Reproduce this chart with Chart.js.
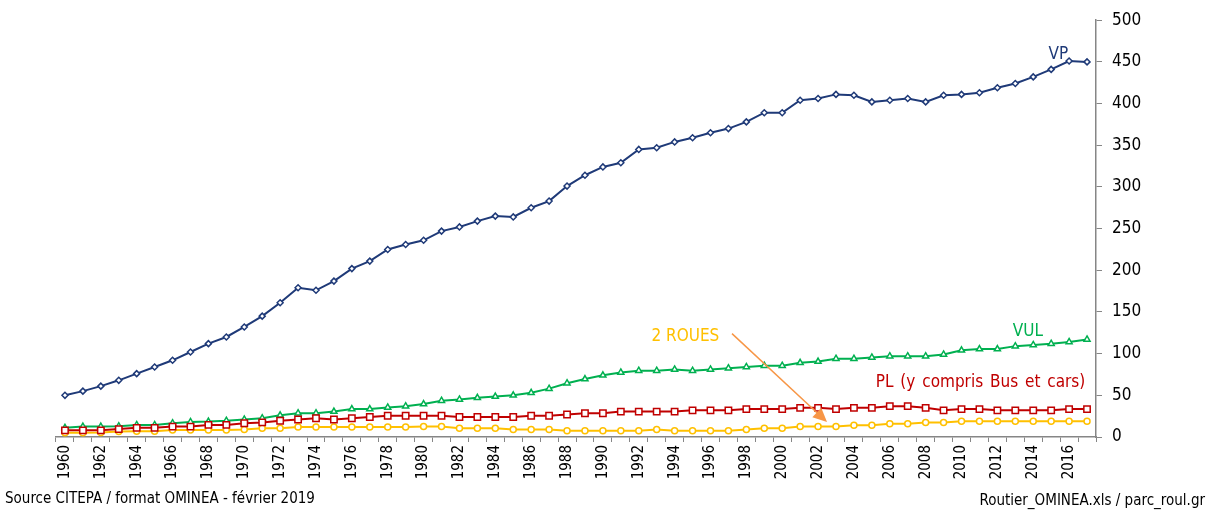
<!DOCTYPE html>
<html>
<head>
<meta charset="utf-8">
<script src="https://cdn.jsdelivr.net/npm/chart.js@4"></script>
<style>
  html, body { margin: 0; padding: 0; background: #fff; }
  #wrap { width: 1212px; height: 511px; position: relative; }
</style>
</head>
<body>
<div id="wrap"><canvas id="parc"></canvas></div>
<script>
// parc roulant par catégorie (indice)
const annees = ['1960','1961','1962','1963','1964','1965','1966','1967','1968','1969',
  '1970','1971','1972','1973','1974','1975','1976','1977','1978','1979',
  '1980','1981','1982','1983','1984','1985','1986','1987','1988','1989',
  '1990','1991','1992','1993','1994','1995','1996','1997','1998','1999',
  '2000','2001','2002','2003','2004','2005','2006','2007','2008','2009',
  '2010','2011','2012','2013','2014','2015','2016','2017'];

const vp = [50, 55, 61, 68, 76, 84, 92, 102, 112, 120,
  132, 145, 161, 179, 176, 187, 202, 211, 225, 231,
  236, 247, 252, 259, 265, 264, 275, 283, 301, 314,
  324, 329, 345, 347, 354, 359, 365, 370, 378, 389,
  389, 404, 406, 411, 410, 402, 404, 406, 402, 410,
  411, 413, 419, 424, 432, 441, 451, 450];

const vul = [11, 12.5, 12.5, 13, 14.5, 14.5, 16.5, 18, 18.5, 19.5,
  21, 22.5, 26, 28.5, 28.5, 30.5, 33.5, 33.5, 35.5, 37,
  39.5, 43.5, 45, 47, 48.5, 50, 53, 58, 64.5, 69.5,
  74, 77.5, 79.5, 79.5, 81, 79.5, 81, 82.5, 84, 85.5,
  85.5, 89, 90.5, 94, 94, 95.5, 97, 97, 97, 99,
  104, 105.5, 105.5, 109, 110.5, 112, 114, 117];

const pl = [8, 8, 8, 9.5, 11, 11, 12.5, 12.5, 14.5, 14.5,
  16.5, 17.5, 19.5, 21, 22.5, 21, 22.5, 24, 25.5, 25.5,
  25.5, 25.5, 24, 24, 24, 24, 25.5, 25.5, 27, 28.5,
  28.5, 30.5, 30.5, 30.5, 30.5, 32, 32, 32, 33.5, 33.5,
  33.5, 35, 35, 33.5, 35, 35, 37, 37, 35, 32,
  33.5, 33.5, 32, 32, 32, 32, 33.5, 33.5];

const deuxRoues = [5, 5, 5.5, 6.5, 7, 7, 8.5, 8.5, 8.5, 8.5,
  9, 10.5, 10.5, 12, 12, 12, 12, 12, 12, 12,
  12.5, 12.5, 10.5, 10.5, 10.5, 9, 9, 9, 7.5, 7.5,
  7.5, 7.5, 7.5, 9, 7.5, 7.5, 7.5, 7.5, 9, 10.5,
  10.5, 12.5, 12.5, 12.5, 14, 14, 16, 16, 17.5, 17.5,
  19, 19, 19, 19, 19, 19, 19, 19];

const graduations = [0, 50, 100, 150, 200, 250, 300, 350, 400, 450, 500];

const BLEU = '#1F3A78', VERT = '#00B050', ROUGE = '#C00000', JAUNE = '#FFC000', ORANGE = '#F79646';
const POLICE = "'DejaVu Sans Condensed', 'Liberation Sans', sans-serif";

function serie(label, data, couleur, forme, rayon) {
  return {
    label, data,
    borderColor: couleur, borderWidth: 2,
    pointStyle: forme, pointRadius: rayon, pointHoverRadius: rayon,
    pointBackgroundColor: '#fff', pointBorderColor: couleur, pointBorderWidth: 1.5,
    tension: 0
  };
}

// étiquettes des séries + flèche 2 ROUES + sources
const habillage = {
  id: 'habillage',
  afterDatasetsDraw(chart) {
    const { ctx, scales: { x, y } } = chart;
    const px = i => x.getPixelForValue(i);
    const textes = [
      { t: 'VP', c: BLEU, i: 55.4, v: 459, a: 'center', e: '0px' },
      { t: 'VUL', c: VERT, i: 53.7, v: 127, a: 'center', e: '0px' },
      { t: 'PL (y compris Bus et cars)', c: ROUGE, i: 56.9, v: 65.5, a: 'right', e: '2px' },
      { t: '2 ROUES', c: JAUNE, i: 34.6, v: 121, a: 'center', e: '0px' }
    ];
    ctx.save();
    ctx.font = '17px ' + POLICE;
    ctx.textBaseline = 'middle';
    textes.forEach(n => {
      ctx.fillStyle = n.c;
      ctx.textAlign = n.a;
      ctx.wordSpacing = n.e;
      ctx.fillText(n.t, px(n.i), y.getPixelForValue(n.v));
    });
    ctx.wordSpacing = '0px';

    // flèche vers la série 2 ROUES
    const x0 = px(37.2), y0 = y.getPixelForValue(124);
    const x1 = px(42.5), y1 = y.getPixelForValue(18);
    const ang = Math.atan2(y1 - y0, x1 - x0);
    ctx.strokeStyle = ORANGE;
    ctx.fillStyle = ORANGE;
    ctx.lineWidth = 1.5;
    ctx.beginPath();
    ctx.moveTo(x0, y0);
    ctx.lineTo(x1 - 10 * Math.cos(ang), y1 - 10 * Math.sin(ang));
    ctx.stroke();
    ctx.beginPath();
    ctx.moveTo(x1, y1);
    ctx.lineTo(x1 - 14 * Math.cos(ang) + 6.5 * Math.sin(ang), y1 - 14 * Math.sin(ang) - 6.5 * Math.cos(ang));
    ctx.lineTo(x1 - 14 * Math.cos(ang) - 6.5 * Math.sin(ang), y1 - 14 * Math.sin(ang) + 6.5 * Math.cos(ang));
    ctx.closePath();
    ctx.fill();

    ctx.fillStyle = '#000';
    ctx.font = '15px ' + POLICE;
    ctx.textAlign = 'left';
    ctx.fillText('Source CITEPA / format OMINEA - février 2019', 5, 499);
    ctx.textAlign = 'right';
    ctx.fillText('Routier_OMINEA.xls / parc_roul.gr', 1205, 501);
    ctx.restore();
  }
};

new Chart(document.getElementById('parc'), {
  type: 'line',
  data: {
    labels: annees,
    datasets: [
      serie('VP', vp, BLEU, 'rectRot', 3),
      serie('PL (y compris Bus et cars)', pl, ROUGE, 'rect', 4.5),
      serie('VUL', vul, VERT, 'triangle', 3.5),
      serie('2 ROUES', deuxRoues, JAUNE, 'circle', 3)
    ]
  },
  options: {
    responsive: true,
    maintainAspectRatio: false,
    animation: false,
    layout: { padding: { left: 56, top: 17, right: 0, bottom: 0 } },
    plugins: { legend: { display: false }, tooltip: { enabled: false } },
    scales: {
      x: {
        offset: true,
        grid: { offset: true, drawOnChartArea: false, drawTicks: true, tickLength: 5, color: '#868686' },
        border: { display: true, color: '#868686', width: 1.5 },
        ticks: {
          autoSkip: false, minRotation: 90, maxRotation: 90, padding: 3,
          color: '#000', font: { family: POLICE, size: 15 },
          callback: (v, i) => i % 2 === 0 ? annees[i] : ''
        },
        afterFit: s => { s.height = 74; }
      },
      y: {
        position: 'right',
        min: 0, max: 500,
        afterBuildTicks: s => { s.ticks = graduations.map(v => ({ value: v })); },
        grid: { drawOnChartArea: false, drawTicks: true, tickLength: 6, color: '#868686' },
        border: { display: true, color: '#868686', width: 1.5 },
        ticks: { padding: 10, color: '#000', font: { family: POLICE, size: 17 } },
        afterFit: s => { s.width = 116; }
      }
    }
  },
  plugins: [habillage]
});
</script>
</body>
</html>
